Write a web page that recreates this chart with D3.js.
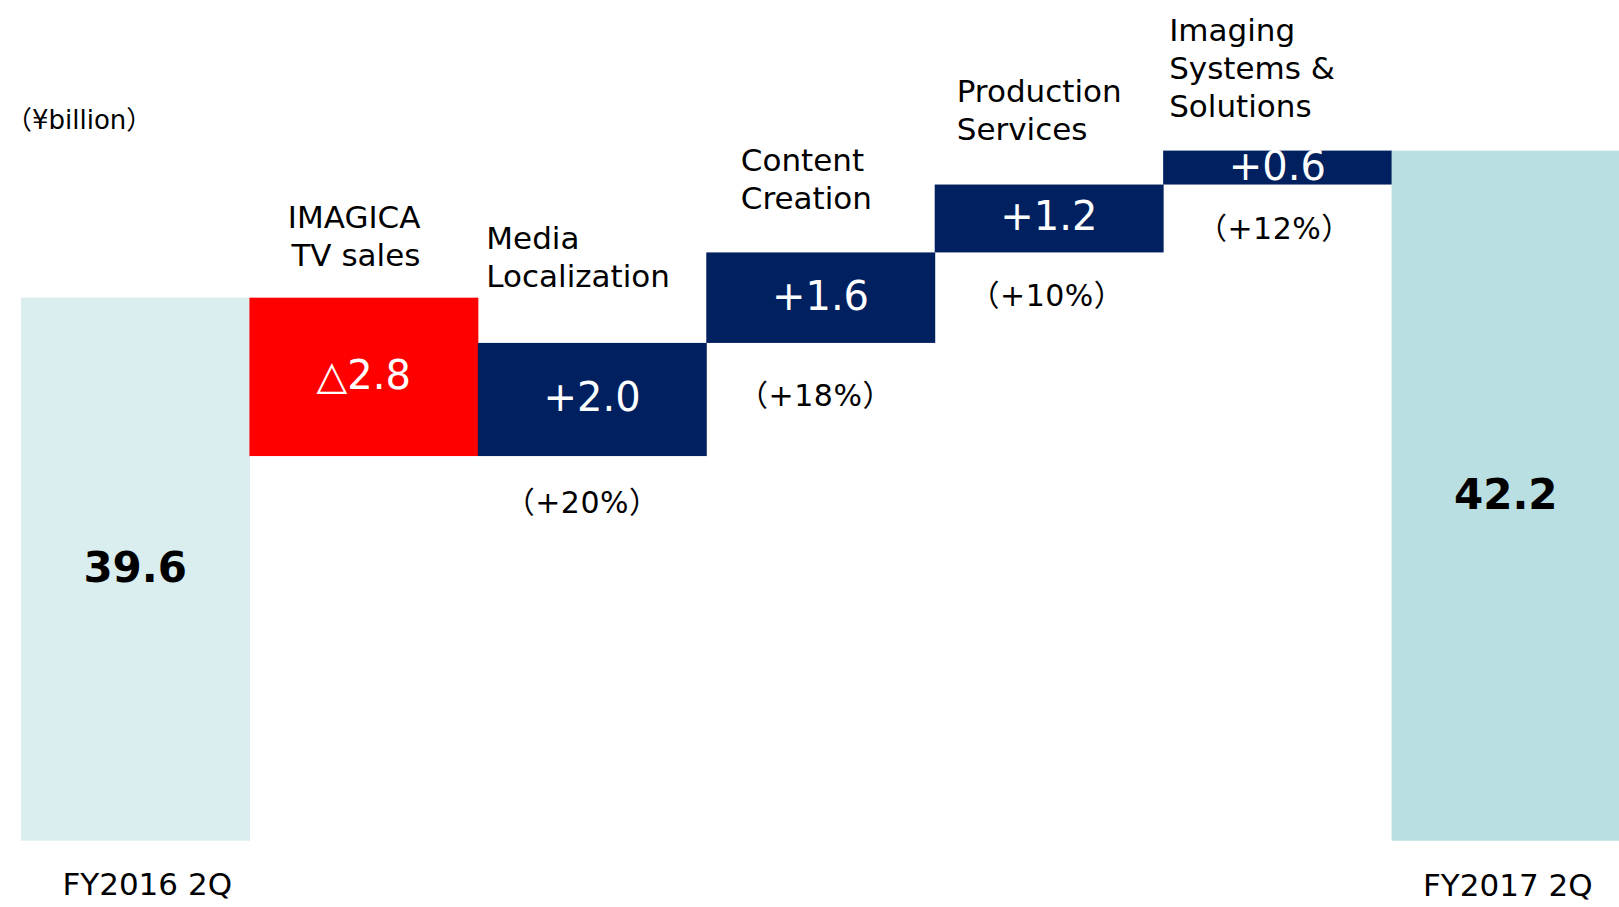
<!DOCTYPE html>
<html>
<head>
<meta charset="utf-8">
<script src="https://cdn.jsdelivr.net/npm/d3@7"></script>
<style>
  html, body { margin: 0; padding: 0; background: #fff; overflow: hidden; }
  svg { display: block; }
  text { font-family: "DejaVu Sans", "Noto Sans CJK JP", sans-serif; }
</style>
</head>
<body>
<svg id="chart" width="1619" height="907"></svg>
<script>
// ---- data ----
const categories = ["FY2016 2Q", "IMAGICA TV sales", "Media Localization", "Content Creation", "Production Services", "Imaging Systems & Solutions", "FY2017 2Q"];
const categoryLines = [[], ["IMAGICA", "TV sales"], ["Media", "Localization"], ["Content", "Creation"], ["Production", "Services"], ["Imaging", "Systems &", "Solutions"], []];
const startValue = 39.6;
const endValue = 42.2;
const changes = [-2.8, 2.0, 1.6, 1.2, 0.6];
const changeLabels = ["△2.8", "+2.0", "+1.6", "+1.2", "+0.6"];
const percentLabels = [null, "（+20%）", "（+18%）", "（+10%）", "（+12%）"];
const totalLabels = ["39.6", "42.2"];
const unitLabel = "（¥billion）";
const yDomain = [30, 42.2];

// ---- layout (not data) ----
const colors = { start: "#DAEDEF", end: "#B9DFE2", up: "#002060", down: "#FF0000" };
const labelLayout = [
  null,
  { dx: 171, anchor: "end", gap: 32 },
  { dx: 8.5, anchor: "start", gap: 56 },
  { dx: 34.5, anchor: "start", gap: 43.5 },
  { dx: 22, anchor: "start", gap: 45 },
  { dx: 6, anchor: "start", gap: 34 },
  null
];
const percentLayout = [
  null,
  { dx: -10, gap: 56.5 },
  { dx: -5, gap: 63.5 },
  { dx: -2, gap: 54 },
  { dx: -3, gap: 54.5 }
];

const svg = d3.select("#chart");
const x = d3.scaleBand().domain(categories).range([21, 1620]).padding(0);
const y = d3.scaleLinear().domain(yDomain).range([840.7, 150.6]);

const segs = [];
segs.push({ cat: categories[0], lo: yDomain[0], hi: startValue, type: "start" });
let run = startValue;
changes.forEach((c, i) => {
  const a = run, b = run + c;
  segs.push({ cat: categories[i + 1], lo: Math.min(a, b), hi: Math.max(a, b), type: c < 0 ? "down" : "up", idx: i });
  run = b;
});
segs.push({ cat: categories[6], lo: yDomain[0], hi: endValue, type: "end" });

svg.append("g").selectAll("rect").data(segs).join("rect")
  .attr("x", d => x(d.cat))
  .attr("width", x.bandwidth() + 0.5)
  .attr("y", d => y(d.hi))
  .attr("height", d => y(d.lo) - y(d.hi))
  .attr("fill", d => colors[d.type]);

svg.append("g").selectAll("text").data(segs.filter(d => d.idx !== undefined)).join("text")
  .attr("x", d => x(d.cat) + x.bandwidth() / 2)
  .attr("y", d => (y(d.hi) + y(d.lo)) / 2)
  .attr("dy", "0.3em")
  .attr("text-anchor", "middle")
  .attr("font-size", 40)
  .attr("fill", "#fff")
  .text(d => changeLabels[d.idx]);

svg.append("g").selectAll("text").data(segs.filter(d => d.idx !== undefined && percentLabels[d.idx])).join("text")
  .attr("x", d => x(d.cat) + x.bandwidth() / 2 + percentLayout[d.idx].dx)
  .attr("y", d => y(d.lo) + percentLayout[d.idx].gap)
  .attr("text-anchor", "middle")
  .attr("font-size", 30)
  .attr("letter-spacing", 0.5)
  .attr("fill", "#000")
  .text(d => percentLabels[d.idx]);

[segs[0], segs[6]].forEach((d, i) => {
  svg.append("text")
    .attr("x", x(d.cat) + x.bandwidth() / 2)
    .attr("y", (y(d.hi) + y(d.lo)) / 2)
    .attr("dy", "0.31em")
    .attr("text-anchor", "middle")
    .attr("font-size", 42)
    .attr("font-weight", "bold")
    .attr("fill", "#000")
    .text(totalLabels[i]);
});

segs.forEach((d, i) => {
  const L = labelLayout[i];
  if (!L) return;
  const lines = categoryLines[i];
  const lastBase = y(d.hi) - L.gap;
  const t = svg.append("text")
    .attr("text-anchor", L.anchor)
    .attr("font-size", 31)
    .attr("fill", "#000");
  lines.forEach((ln, k) => {
    t.append("tspan")
      .attr("x", x(d.cat) + L.dx)
      .attr("y", lastBase - (lines.length - 1 - k) * 38)
      .text(ln);
  });
});

svg.append("text")
  .attr("x", x(categories[0]) + x.bandwidth() / 2 + 12)
  .attr("y", 895)
  .attr("text-anchor", "middle")
  .attr("font-size", 31)
  .attr("fill", "#000")
  .text(categories[0]);
svg.append("text")
  .attr("x", x(categories[6]) + x.bandwidth() / 2 + 2)
  .attr("y", 896)
  .attr("text-anchor", "middle")
  .attr("font-size", 31)
  .attr("fill", "#000")
  .text(categories[6]);

svg.append("text")
  .attr("x", 6)
  .attr("y", 128.5)
  .attr("font-size", 26)
  .attr("fill", "#000")
  .text(unitLabel);
</script>
</body>
</html>
